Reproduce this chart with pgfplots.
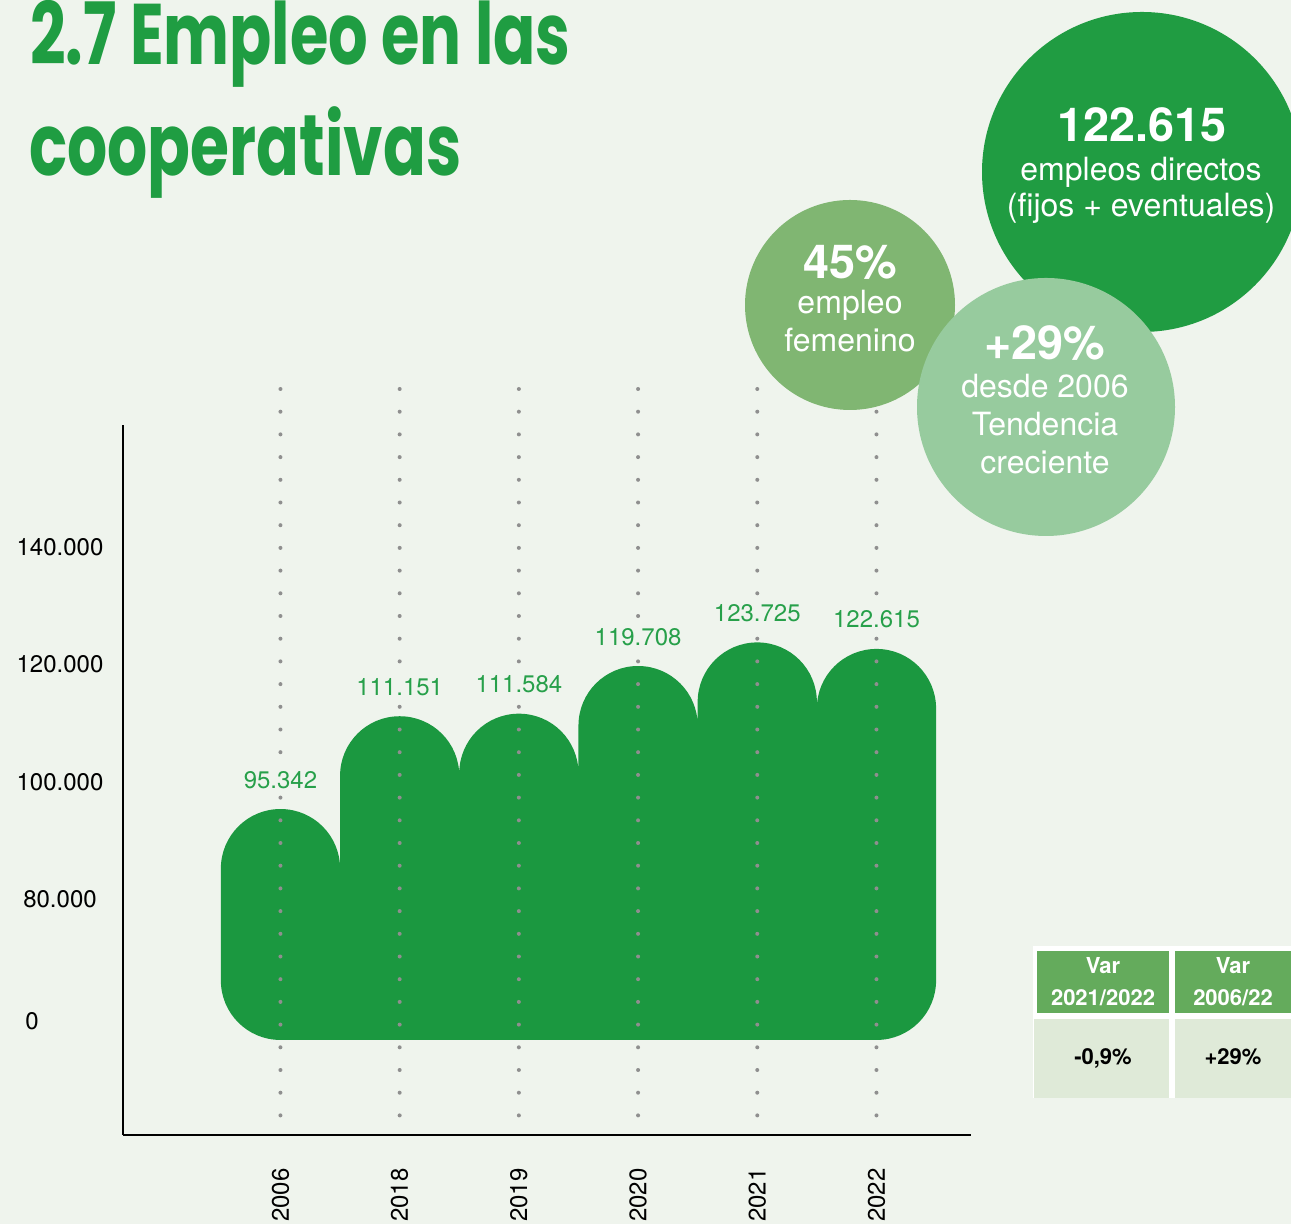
\documentclass[border=0pt]{standalone}
\usepackage{fontspec}
\setmainfont{TeX Gyre Heros}
\newfontfamily\titlefont{Poppins}
\usepackage{graphicx}
\usepackage{pgfplots}
\usepackage{pgfplotstable}
\pgfplotsset{compat=1.18}
\definecolor{bgcol}{HTML}{EFF4ED}
\definecolor{barcol}{HTML}{1B9840}
\definecolor{titlecol}{HTML}{1F9D42}
\definecolor{circA}{HTML}{209C42}
\definecolor{circB}{HTML}{80B672}
\definecolor{circC}{HTML}{97CB9E}
\definecolor{hdrcol}{HTML}{64AB5C}
\definecolor{cellcol}{HTML}{DFEAD8}
\definecolor{dotcol}{HTML}{8F8F8F}
\definecolor{labcol}{HTML}{27A04A}

% employment (thousands, Spanish notation)
\pgfplotstableread{
x v lab
0 95.342 95.342
1 111.151 111.151
2 111.584 111.584
3 119.708 119.708
4 123.725 123.725
5 122.615 122.615
}\empleo

\begin{document}
\begin{tikzpicture}[x=0.5pt,y=0.5pt]
\clip (0,0) rectangle (1291,1224);
\fill[bgcol] (0,0) rectangle (1291,1224);

% title
\node[anchor=base west, inner sep=0pt, text=titlecol] at (30,1159)
  {\resizebox{270pt}{\height}{\fontsize{43}{50}\titlefont\bfseries 2.7 Empleo en las}};
\node[anchor=base west, inner sep=0pt, text=titlecol] at (29,1048)
  {\resizebox{216pt}{\height}{\fontsize{43}{50}\titlefont\bfseries cooperativas}};

\begin{axis}[
  at={(61.5pt,44.5pt)}, anchor=south west,
  scale only axis, width=424pt, height=355pt,
  xmin=-1.321, xmax=5.793, ymin=39.81, ymax=160.77,
  axis x line*=bottom, axis y line*=left,
  axis line style={line width=1.3pt, black},
  xtick={0,...,5}, xticklabels={2006,2018,2019,2020,2021,2022},
  ytick={80,100,120,140}, yticklabels={80.000,100.000,120.000,140.000},
  extra y ticks={59.23}, extra y tick labels={0},
  extra y tick style={yticklabel style={xshift=-14pt}},
  major tick length=0pt,
  tick style={draw=none},
  xticklabel style={rotate=90, anchor=east, inner sep=0pt, font=\fontsize{12}{14}\selectfont},
  xticklabel shift=16.5pt,
  yticklabel style={anchor=center, inner sep=0pt, font=\fontsize{12}{14}\selectfont, xshift=-31.5pt},
  clip=false,
]
% bars: one outline, each bar with a semicircular top
\addplot[fill=barcol, draw=none, rounded corners=29.75pt] coordinates {
 (0,95.342) (0.5,95.342) (0.5,70)
 (0.5,111.151) (1.5,111.151) (1.5,70)
 (1.5,111.584) (2.5,111.584) (2.5,70)
 (2.5,119.708) (3.5,119.708) (3.5,70)
 (3.5,123.725) (4.5,123.725) (4.5,70)
 (4.5,122.615) (5.5,122.615) (5.5,56)
 (-0.5,56) (-0.5,95.342) (0,95.342)
};
% dotted guide lines
\pgfplotsinvokeforeach{0,...,5}{
  \addplot[dotcol, line width=2pt, line cap=round, dash pattern=on 0pt off 11.35pt]
    coordinates {(#1,166.9) (#1,42.2)};
}
% value labels
\addplot[draw=none, nodes near coords, point meta=explicit symbolic,
  nodes near coords style={anchor=base, yshift=10.5pt, text=labcol, fill=bgcol,
    inner sep=1.5pt, font=\fontsize{12}{14}\selectfont}]
  table[x=x, y=v, meta=lab] {\empleo};
\end{axis}

% circles
\fill[circA] (1142,1052) circle[radius=80pt];
\fill[circB] (850,919) circle[radius=52.5pt];
\fill[circC] (1046,817) circle[radius=64.5pt];

\begin{scope}[every node/.style={anchor=base, inner sep=0pt, text=white}]
\node[font=\fontsize{23.4}{28}\selectfont\bfseries] at (1142,1082) {122.615};
\node[font=\fontsize{16}{19}\selectfont] at (1141,1043) {empleos directos};
\node[font=\fontsize{16}{19}\selectfont] at (1141,1007) {(fijos + eventuales)};
\node[font=\fontsize{23.4}{28}\selectfont\bfseries] at (850,945) {45\%};
\node[font=\fontsize{16}{19}\selectfont] at (850,910) {empleo};
\node[font=\fontsize{16}{19}\selectfont] at (850,872) {femenino};
\node[font=\fontsize{23.4}{28}\selectfont\bfseries] at (1045,864) {+29\%};
\node[font=\fontsize{16}{19}\selectfont] at (1045,826) {desde 2006};
\node[font=\fontsize{16}{19}\selectfont] at (1045,788) {Tendencia};
\node[font=\fontsize{16}{19}\selectfont] at (1045,750) {creciente};
\end{scope}

% table
\fill[white] (1033,278) rectangle (1291,126);
\fill[hdrcol] (1037,273) rectangle (1169,211);
\fill[hdrcol] (1175,273) rectangle (1291,211);
\fill[cellcol] (1034,205) rectangle (1169,126);
\fill[cellcol] (1175,205) rectangle (1291,126);
\begin{scope}[every node/.style={anchor=base, inner sep=0pt, font=\fontsize{11}{13}\selectfont\bfseries}]
\node[text=white] at (1103,250) {Var};
\node[text=white] at (1103,218) {2021/2022};
\node[text=white] at (1233,250) {Var};
\node[text=white] at (1233,218) {2006/22};
\node[text=black] at (1103,159) {-0,9\%};
\node[text=black] at (1233,159) {+29\%};
\end{scope}
\end{tikzpicture}
\end{document}
